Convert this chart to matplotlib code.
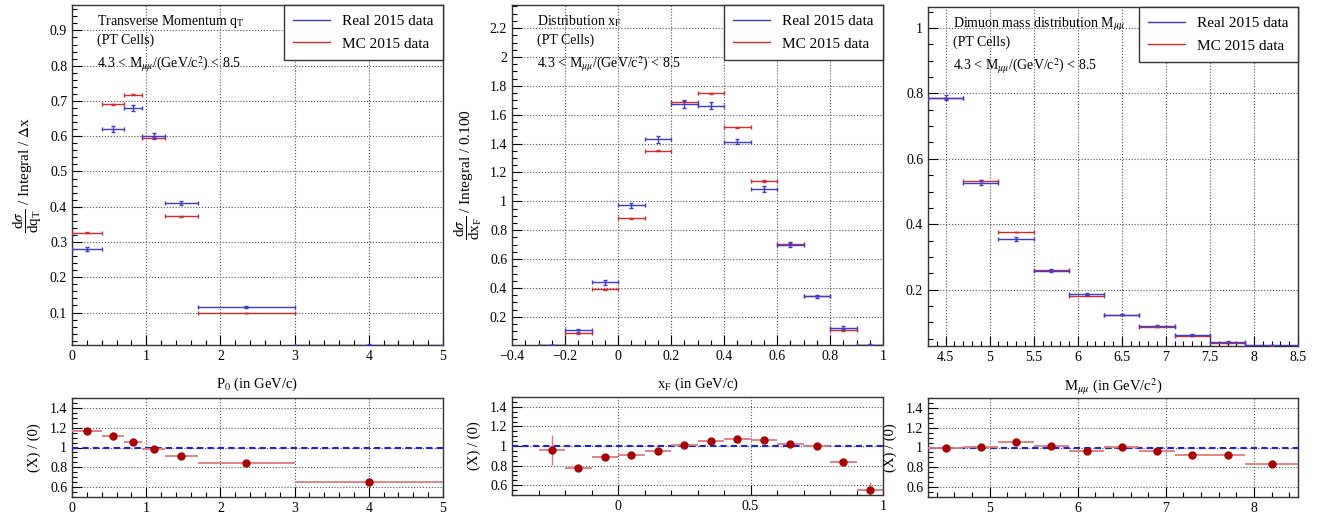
import numpy as np
import matplotlib
matplotlib.use('Agg')
import matplotlib.pyplot as plt
from matplotlib.lines import Line2D
from matplotlib.ticker import MultipleLocator, FuncFormatter

plt.rcParams['font.family'] = ['Liberation Serif', 'DejaVu Serif']
plt.rcParams['mathtext.fontset'] = 'stix'

# ---- panel 1 : transverse momentum
pt_edges = [0, 0.4, 0.7, 0.95, 1.25, 1.7, 3.0, 5.0]
pt_real = [0.280, 0.621, 0.680, 0.601, 0.410, 0.116, 0.009]
pt_mc = [0.326, 0.691, 0.718, 0.596, 0.373, 0.099, 0.006]
pt_real_err = [0.006, 0.008, 0.009, 0.008, 0.006, 0.002, 0.001]
pt_ratio = [1.165, 1.114, 1.056, 0.985, 0.91, 0.84, 0.648]
pt_ratio_err = [0.01, 0.01, 0.01, 0.01, 0.01, 0.01, 0.01]

# ---- panel 2 : xF
xf_edges = [-0.3, -0.2, -0.1, 0.0, 0.1, 0.2, 0.3, 0.4, 0.5, 0.6, 0.7, 0.8, 0.9, 1.0]
xf_real = [0.006, 0.107, 0.439, 0.972, 1.431, 1.674, 1.662, 1.414, 1.085, 0.700, 0.344, 0.126, 0.007]
xf_mc = [0.006, 0.086, 0.392, 0.884, 1.352, 1.690, 1.748, 1.514, 1.141, 0.708, 0.344, 0.107, 0.006]
xf_real_err = [0.002, 0.01, 0.015, 0.02, 0.025, 0.025, 0.025, 0.02, 0.02, 0.015, 0.01, 0.008, 0.002]
xf_ratio = [0.96, 0.78, 0.886, 0.91, 0.948, 1.014, 1.055, 1.076, 1.06, 1.02, 1.0, 0.84, 0.546]
xf_ratio_err = [0.15, 0.015, 0.01, 0.01, 0.01, 0.01, 0.01, 0.01, 0.01, 0.01, 0.01, 0.02, 0.09]

# ---- panel 3 : dimuon mass
m_edges = [4.3, 4.7, 5.1, 5.5, 5.9, 6.3, 6.7, 7.1, 7.5, 7.9, 8.5]
m_real = [0.787, 0.527, 0.355, 0.258, 0.188, 0.124, 0.090, 0.062, 0.041, 0.031]
m_mc = [0.785, 0.533, 0.376, 0.260, 0.182, 0.124, 0.086, 0.060, 0.038, 0.027]
m_real_err = [0.008, 0.007, 0.005, 0.004, 0.003, 0.002, 0.002, 0.002, 0.001, 0.001]
m_ratio = [0.99, 1.01, 1.06, 1.02, 0.96, 1.01, 0.96, 0.92, 0.92, 0.83]
m_ratio_err = [0.01, 0.01, 0.01, 0.01, 0.01, 0.01, 0.01, 0.01, 0.01, 0.01]

legend_labels = ['Real 2015 data', 'MC 2015 data']
titles = ['Transverse Momentum q$_\\mathregular{T}$', 'Distribution x$_\\mathregular{F}$',
          'Dimuon mass distribution M$_{\\mu\\mu}$']
cut_text = '4.3 < M$_{\\mu\\mu}$/(GeV/c$^2$) < 8.5'
xlabels = ['P$_0$ (in GeV/c)', 'x$_\\mathregular{F}$ (in GeV/c)', 'M$_{\\mu\\mu}$ (in GeV/c$^2$)']
ylabels = [r'$\dfrac{\mathregular{d}\sigma}{\mathregular{dq}_\mathregular{T}}$ / Integral / $\Delta$x',
           r'$\dfrac{\mathregular{d}\sigma}{\mathregular{dx}_\mathregular{F}}$ / Integral / 0.100', '']

BLUE = '#3c3cd0'
RED = '#d02c2c'
DOT_RED = '#a80000'
BAR_RED = '#e07a7a'

fmt = FuncFormatter(lambda v, p: ('%g' % round(v, 6)).replace('-', '\u2212'))

W, H = 1317, 513
fig = plt.figure(figsize=(W / 100, H / 100), dpi=100)

tops = [(72, 5, 443, 345), (512, 5, 883, 345), (928, 7, 1298, 346)]
bots = [(72, 398, 443, 497), (512, 397, 883, 495), (928, 398, 1298, 497)]

def box(b):
    l, t, r, bt = b
    return [l / W, 1 - bt / H, (r - l) / W, (bt - t) / H]

panels = [
    (pt_edges, pt_real, pt_mc, pt_real_err, pt_ratio, pt_ratio_err,
     (0, 5), (0.008, 0.972), 1, 0.2, 0.1, 0.02, (0, 5), 1, 0.2),
    (xf_edges, xf_real, xf_mc, xf_real_err, xf_ratio, xf_ratio_err,
     (-0.4, 1), (0.005, 2.36), 0.2, 0.05, 0.2, 0.05, (-0.4, 1), 0.5, 0.1),
    (m_edges, m_real, m_mc, m_real_err, m_ratio, m_ratio_err,
     (4.3, 8.5), (0.028, 1.064), 0.5, 0.1, 0.2, 0.05, (4.3, 8.5), 1, 0.2),
]

def style(ax):
    ax.tick_params(which='both', direction='in', top=False, right=False, labelsize=10, colors='black')
    ax.tick_params(which='major', length=7, width=0.8)
    ax.tick_params(which='minor', length=3.5, width=0.8)
    ax.grid(True, which='major', linestyle=':', color='#555555', linewidth=0.8)
    for s in ax.spines.values():
        s.set_color('#333333')
        s.set_linewidth(1.0)
    ax.xaxis.set_major_formatter(fmt)
    ax.yaxis.set_major_formatter(fmt)

for i, (edges, real, mc, rerr, ratio, ratio_err, xl, yl, xmaj, xmin, ymaj, ymin,
        rxl, rxmaj, rxmin) in enumerate(panels):
    edges = np.array(edges)
    cen = (edges[:-1] + edges[1:]) / 2
    half = (edges[1:] - edges[:-1]) / 2

    ax = fig.add_axes(box(tops[i]))
    ax.errorbar(cen, mc, xerr=half, yerr=np.array(rerr) * 0.2, fmt='none', ecolor=RED,
                elinewidth=1.0, capsize=1.5, zorder=3)
    ax.errorbar(cen, real, xerr=half, yerr=rerr, fmt='none', ecolor=BLUE,
                elinewidth=1.0, capsize=1.5, zorder=3)
    ax.set_xlim(*xl)
    ax.set_ylim(*yl)
    ax.xaxis.set_major_locator(MultipleLocator(xmaj))
    ax.xaxis.set_minor_locator(MultipleLocator(xmin))
    ax.yaxis.set_major_locator(MultipleLocator(ymaj))
    ax.yaxis.set_minor_locator(MultipleLocator(ymin))
    style(ax)
    ax.set_xlabel(xlabels[i], fontsize=10.5, labelpad=9)
    if ylabels[i]:
        ax.set_ylabel(ylabels[i], fontsize=11, labelpad=4)
    ax.text(0.068, 0.975, titles[i], transform=ax.transAxes, fontsize=10, va='top', ha='left')
    ax.text(0.068, 0.915, '(PT Cells)', transform=ax.transAxes, fontsize=10, va='top', ha='left')
    ax.text(0.068, 0.855, cut_text, transform=ax.transAxes, fontsize=10, va='top', ha='left')
    handles = [Line2D([], [], color=BLUE, lw=1.0), Line2D([], [], color=RED, lw=1.0)]
    leg = ax.legend(handles, legend_labels, loc='upper right', bbox_to_anchor=(1, 1), borderaxespad=0,
                    fancybox=False, framealpha=1, edgecolor='#333333', fontsize=11,
                    handlelength=2.4, borderpad=0.6, labelspacing=0.6)
    leg.get_frame().set_linewidth(1.0)
    leg.set_zorder(6)

    rx = fig.add_axes(box(bots[i]))
    rx.axhline(1.0, color='#1f1fe6', linestyle=(0, (3, 2)), linewidth=1.5, zorder=3)
    rx.errorbar(cen, ratio, xerr=half, fmt='none', ecolor=BAR_RED, elinewidth=1.3, zorder=4)
    rx.errorbar(cen, ratio, yerr=ratio_err, fmt='o', color=DOT_RED, ecolor=BAR_RED,
                markersize=5, elinewidth=1.0, zorder=5)
    rx.set_xlim(*rxl)
    rx.set_ylim(0.5, 1.5)
    rx.xaxis.set_major_locator(MultipleLocator(rxmaj))
    rx.xaxis.set_minor_locator(MultipleLocator(rxmin))
    rx.yaxis.set_major_locator(MultipleLocator(0.2))
    rx.yaxis.set_minor_locator(MultipleLocator(0.05))
    rx.set_yticks([0.6, 0.8, 1.0, 1.2, 1.4])
    style(rx)
    rx.set_ylabel('(X) / (0)', fontsize=10.5, labelpad=6)

fig.savefig('out.png', dpi=100)
